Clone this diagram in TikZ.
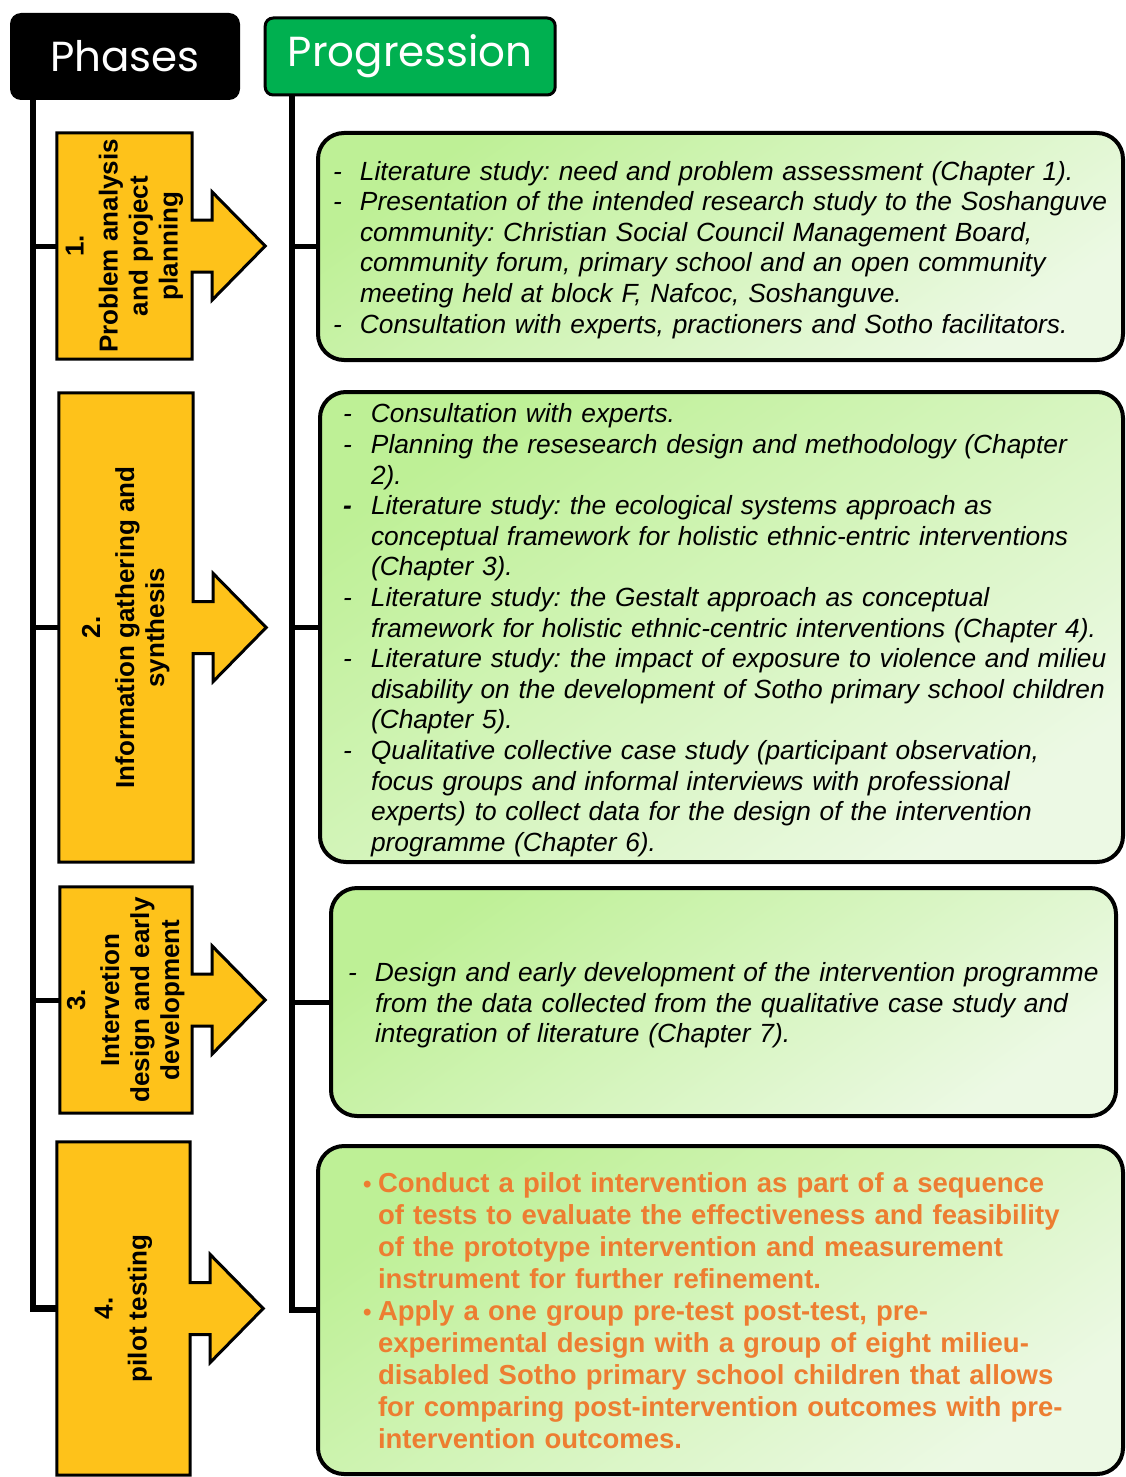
\documentclass[tikz,border=0pt]{standalone}
\usepackage{fontspec}
\setmainfont{Liberation Sans}
\newfontfamily\headfont{Poppins}
\usetikzlibrary{positioning,calc,backgrounds}
\frenchspacing

\definecolor{phaseyellow}{RGB}{254,194,26}
\definecolor{proggreen}{RGB}{0,176,80}
\definecolor{boxgreenA}{RGB}{190,240,150}
\definecolor{boxgreenB}{RGB}{236,249,228}
\definecolor{pilotorange}{RGB}{237,125,49}

% outline of a phase box with its arrow to the right
\newcommand\phasearrow[1]{%
	\path[phasearrow] (#1.north west) -- (#1.north east) -- ($(#1.east)+(0,-26)$)
		-- ++(20,0) -- ++(0,-28) -- ($(#1.east)+(73,0)$) -- ($(#1.east)+(20,54)$)
		-- ++(0,-28) -- ++(-20,0) -- (#1.south east) -- (#1.south west) -- cycle;}
% text lines sit a little low in the boxes
\newcommand\lowered[1]{\raisebox{-4pt}[\height][\depth]{#1}}
\newcommand\smallbullet{{\fontsize{24}{24}\selectfont\textbullet}}

\begin{document}
\begin{tikzpicture}[x=1pt, y=-1pt,
	header/.style={rectangle, rounded corners=11pt, text=white, inner sep=0pt,
		font=\headfont\fontsize{42}{44}\selectfont},
	phase/.style={rectangle, inner sep=0pt, font=\bfseries\fontsize{26}{30}\selectfont},
	phasearrow/.style={draw, fill=phaseyellow, line width=3pt, line join=miter},
	stepbox/.style={rectangle, rounded corners=26pt, draw, line width=4pt,
		top color=boxgreenA, bottom color=boxgreenB, shading angle=35,
		inner ysep=0pt, align=left},
	spine/.style={line width=6.5pt},
	branch/.style={line width=5pt}]

	\useasboundingbox (0,0) rectangle (1125,1477);

	% Headers
	\node [header, fill=black, minimum width=230, minimum height=87]	(phases) at (125,56.5) {Phases};
	\node [header, fill=proggreen, draw=black, line width=3pt, rounded corners=8pt,
		minimum width=290, minimum height=77]	(progression) [right=23.5pt of phases]
		{\raisebox{-3pt}{Progression}};

	% Phases {p1, p2, p3, p4}
	\node [phase, minimum width=135, minimum height=226]	(p1) at (124.5,246)
		{\rotatebox{90}{\begin{tabular}{c}1.\\[4pt] Problem analysis\\ and project\\ planning\end{tabular}}};
	\node [phase, minimum width=134, minimum height=469]	(p2) at (126,627.5)
		{\rotatebox{90}{\begin{tabular}{c}2.\\[4pt] Information gathering and\\ synthesis\end{tabular}}};
	\node [phase, minimum width=132, minimum height=226]	(p3) at (126,1000)
		{\rotatebox{90}{\begin{tabular}{c}3.\\[4pt] Intervetion\\ design and early\\ development\end{tabular}}};
	\node [phase, minimum width=133, minimum height=333]	(p4) at (123.5,1308.5)
		{\rotatebox{90}{\begin{tabular}{c}4.\\[4pt] pilot testing\end{tabular}}};

	\begin{scope}[on background layer]
		\phasearrow{p1}
		\phasearrow{p2}
		\phasearrow{p3}
		\phasearrow{p4}
	\end{scope}

	% Progression boxes {b1, b2, b3, b4}
	\node [stepbox, minimum height=227, text width=775, inner xsep=15,
		font=\itshape\fontsize{26.3}{30.6}\selectfont]	(b1) at (720.5,246.5) {\lowered{%
		\begin{tabular}{@{}p{27pt}@{}l@{}}
		- & Literature study: need and problem assessment (Chapter 1).\\
		- & Presentation of the intended research study to the Soshanguve\\
		  & community: Christian Social Council Management Board,\\
		  & community forum, primary school and an open community\\
		  & meeting held at block F, Nafcoc, Soshanguve.\\
		- & Consultation with experts, practioners and Sotho facilitators.
		\end{tabular}}};
	\node [stepbox, minimum height=470, text width=757, inner xsep=23,
		font=\itshape\fontsize{26.3}{30.6}\selectfont]	(b2) at (721.5,627) {\lowered{%
		\begin{tabular}{@{}p{28pt}@{}l@{}}
		- & Consultation with experts.\\
		- & Planning the resesearch design and methodology (Chapter\\
		  & 2).\\
		\textbf{-} & Literature study: the ecological systems approach as\\
		  & conceptual framework for holistic ethnic-entric interventions\\
		  & (Chapter 3).\\
		- & Literature study: the Gestalt approach as conceptual\\
		  & framework for holistic ethnic-centric interventions (Chapter 4).\\
		- & Literature study: the impact of exposure to violence and milieu\\
		  & disability on the development of Sotho primary school children\\
		  & (Chapter 5).\\
		- & Qualitative collective case study (participant observation,\\
		  & focus groups and informal interviews with professional\\
		  & experts) to collect data for the design of the intervention\\
		  & programme (Chapter 6).
		\end{tabular}}};
	\node [stepbox, minimum height=228, text width=751, inner xsep=17,
		font=\itshape\fontsize{26.3}{30.6}\selectfont]	(b3) at (723.5,1002) {\lowered{%
		\begin{tabular}{@{}p{27pt}@{}l@{}}
		- & Design and early development of the intervention programme\\
		  & from the data collected from the qualitative case study and\\
		  & integration of literature (Chapter 7).
		\end{tabular}}};
	\node [stepbox, minimum height=328, text width=715, inner xsep=45, text=pilotorange,
		font=\bfseries\fontsize{27.5}{32}\selectfont]	(b4) at (720.5,1310) {\lowered{%
		\begin{tabular}{@{}p{15pt}@{}l@{}}
		\smallbullet & Conduct a pilot intervention as part of a sequence\\
		  & of tests to evaluate the effectiveness and feasibility\\
		  & of the prototype intervention and measurement\\
		  & instrument for further refinement.\\
		\smallbullet & Apply a one group pre-test post-test, pre-\\
		  & experimental design with a group of eight milieu-\\
		  & disabled Sotho primary school children that allows\\
		  & for comparing post-intervention outcomes with pre-\\
		  & intervention outcomes.
		\end{tabular}}};

	% Spines and branches
	\coordinate (lspine) at (33,0);
	\coordinate (rspine) at (292,0);
	\draw [spine] (lspine |- phases.south) |- (p4.west);
	\draw [spine] (rspine |- progression.south) |- (b4.west);
	\foreach \p in {p1,p2,p3}
		\draw [branch] (lspine |- \p.west) -- (\p.west);
	\foreach \b in {b1,b2,b3}
		\draw [branch] (rspine |- \b.west) -- (\b.west);

\end{tikzpicture}
\end{document}
